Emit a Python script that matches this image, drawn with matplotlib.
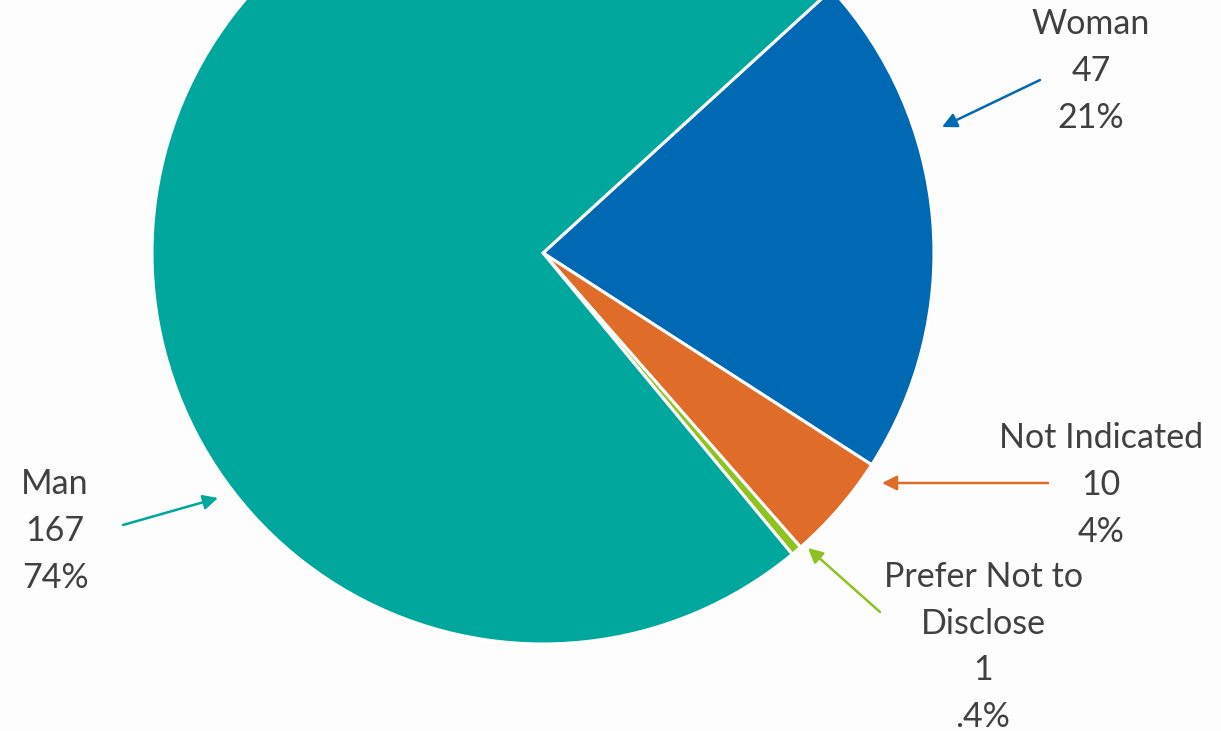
import matplotlib
matplotlib.use("Agg")
import matplotlib.pyplot as plt

categories = ["Woman", "Not Indicated", "Prefer Not to\nDisclose", "Man"]
counts = [47, 10, 1, 167]
pct_labels = ["21%", "4%", ".4%", "74%"]
colors = ["#0069B4", "#E06C2A", "#8DC21F", "#00A79D"]

W, H = 1221, 731
fig = plt.figure(figsize=(W / 100, H / 100), dpi=100)
fig.patch.set_facecolor("#FDFDFD")
ax = fig.add_axes([0, 0, 1, 1])
ax.set_xlim(0, W)
ax.set_ylim(0, H)
ax.set_aspect("equal")
ax.axis("off")

cx, cy, r = 543, H - 253, 391
ax.pie(counts, colors=colors, startangle=42.4, counterclock=False,
       center=(cx, cy), radius=r, frame=True,
       wedgeprops=dict(edgecolor="white", linewidth=2.2))
ax.set_xlim(0, W)
ax.set_ylim(0, H)
ax.axis("off")

font = dict(family="Lato", fontsize=24.5, color="#404040", ha="center", va="center",
            linespacing=1.56)

# label text centres (pixel, y-down), arrow start, arrow tip
layout = [
    ((1091, 71), (1040, 80), (942, 127)),
    ((1101, 485), (1048, 483), (882, 483)),
    ((983, 647), (880, 612), (808, 548)),
    ((55, 531), (123, 525), (218, 498)),
]

for cat, n, p, col, (tpos, a0, a1) in zip(categories, counts, pct_labels, colors, layout):
    ax.text(tpos[0], H - tpos[1], f"{cat}\n{n}\n{p}", **font)
    ax.annotate("", xy=(a1[0], H - a1[1]), xytext=(a0[0], H - a0[1]),
                arrowprops=dict(arrowstyle="-|>", color=col, lw=1.8,
                                mutation_scale=22, shrinkA=0, shrinkB=0))

fig.savefig("out.png", dpi=100, facecolor=fig.get_facecolor())
